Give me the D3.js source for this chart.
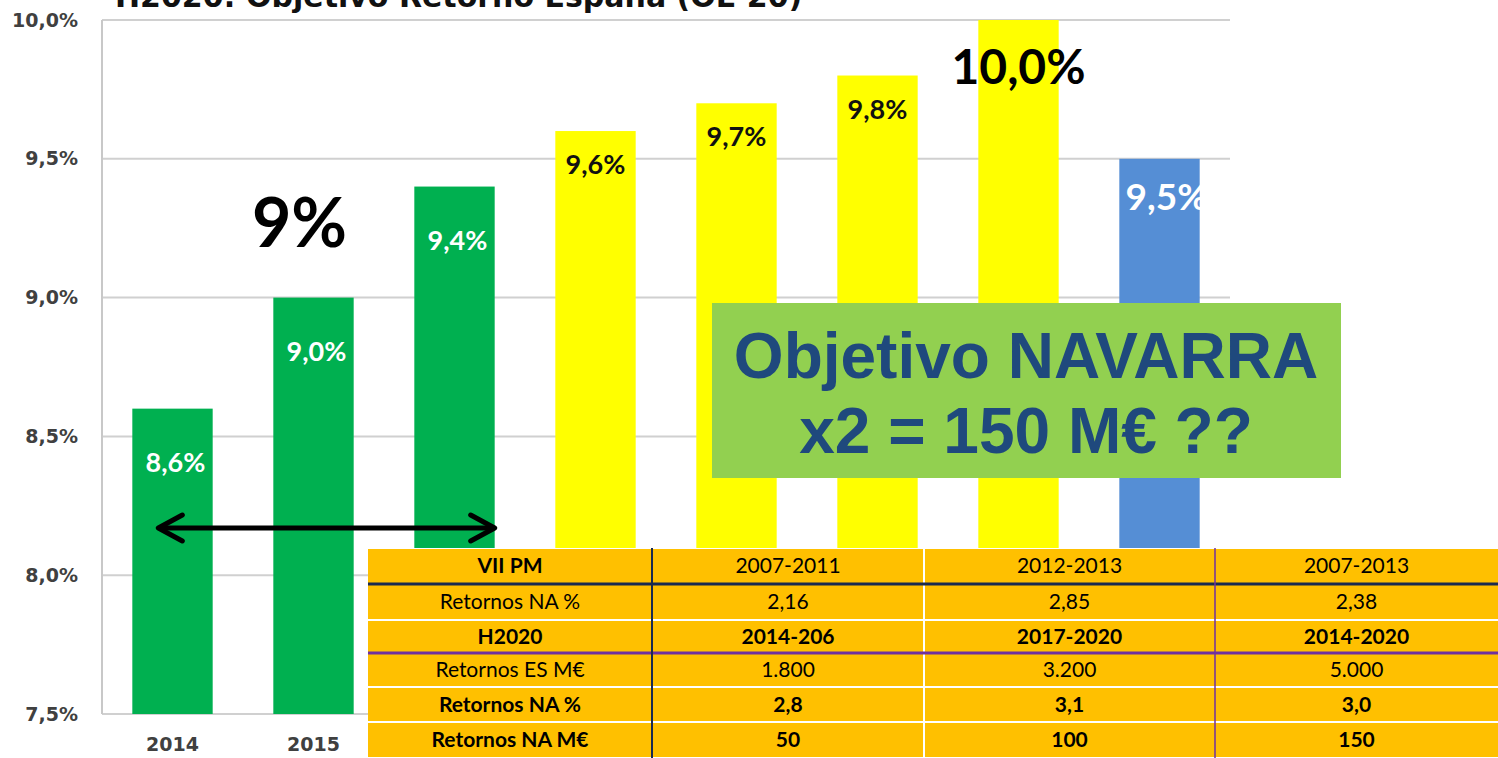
<!DOCTYPE html>
<html>
<head>
<meta charset="utf-8">
<script src="https://cdn.jsdelivr.net/npm/d3@7"></script>
<style>
  body { margin: 0; background: #fff; }
  svg { display: block; }
</style>
</head>
<body>
<svg id="chart"></svg>
<script>
//////////////// Daten ////////////////////
const years = ["2014", "2015", "2016", "2017", "2018", "2019", "2020", "TOTAL"];
const retorno = [8.6, 9.0, 9.4, 9.6, 9.7, 9.8, 10.0, 9.5];
const tipo = ["real", "real", "real", "obj", "obj", "obj", "meta", "total"];
const yTicks = [7.5, 8.0, 8.5, 9.0, 9.5, 10.0];

const tablaCabecera = ["VII PM", "2007-2011", "2012-2013", "2007-2013"];
const tablaFilas = [
  ["Retornos NA %", "2,16", "2,85", "2,38"],
  ["H2020", "2014-206", "2017-2020", "2014-2020"],
  ["Retornos ES M€", "1.800", "3.200", "5.000"],
  ["Retornos NA %", "2,8", "3,1", "3,0"],
  ["Retornos NA M€", "50", "100", "150"]
];
const filasNegrita = [true, false, true, false, true, true];

//////////////// Konstanten ////////////////////
const W = 1498, H = 758;
const margin = {top: 20, right: 268, bottom: 44, left: 102};
const colores = {real: "#00b050", obj: "#ffff00", meta: "#ffff00", total: "#558ed5"};
const fmt = d3.formatLocale({decimal: ",", thousands: ".", grouping: [3], currency: ["", "€"]});
const pct = v => fmt.format(".1f")(v) + "%";
const tablaX = 368;  // linker Rand der Tabelle

const svg = d3.select("#chart").attr("width", W).attr("height", H);

////////////////// Scaling ////////////
const x = d3.scaleBand()
  .domain(years)
  .range([margin.left, W - margin.right])
  .paddingInner(0.43)
  .paddingOuter(0.215);
const y = d3.scaleLinear()
  .domain([7.5, 10])
  .range([H - margin.bottom, margin.top]);

// Titel (oben abgeschnitten, wie im Original)
svg.append("text")
  .attr("x", 115).attr("y", 7)
  .attr("font-family", "'DejaVu Sans', sans-serif")
  .attr("font-weight", "bold")
  .attr("font-size", 30)
  .attr("fill", "#111")
  .text("H2020: Objetivo Retorno España (OE 20)");

// Gitter
svg.append("g").selectAll("line")
  .data(yTicks)
  .enter().append("line")
  .attr("x1", margin.left).attr("x2", W - margin.right)
  .attr("y1", d => y(d)).attr("y2", d => y(d))
  .attr("stroke", "#d0d0d0").attr("stroke-width", 2);

svg.append("line")
  .attr("x1", margin.left).attr("x2", margin.left)
  .attr("y1", y(10)).attr("y2", y(7.5))
  .attr("stroke", "#c8c8c8").attr("stroke-width", 2);

// Y-Achse
const yAxis = svg.append("g")
  .attr("transform", "translate(" + margin.left + ",0)")
  .call(d3.axisLeft(y).tickValues(yTicks).tickFormat(pct).tickSize(0).tickPadding(24));
yAxis.select(".domain").remove();
yAxis.selectAll("text")
  .attr("font-family", "'DejaVu Sans', sans-serif")
  .attr("font-weight", "bold")
  .attr("font-size", 19)
  .attr("fill", "#404040");

// X-Achse (nur die Jahre, die nicht unter der Tabelle liegen)
const xAxis = svg.append("g")
  .attr("transform", "translate(0," + y(7.5) + ")")
  .call(d3.axisBottom(x)
    .tickValues(years.filter(d => x(d) + x.bandwidth() < tablaX))
    .tickSize(0).tickPadding(24));
xAxis.select(".domain").remove();
xAxis.selectAll("text")
  .attr("font-family", "'DejaVu Sans', sans-serif")
  .attr("font-weight", "bold")
  .attr("font-size", 19)
  .attr("fill", "#404040");

// Balken
svg.append("g").selectAll("rect")
  .data(years)
  .enter().append("rect")
  .attr("x", d => x(d))
  .attr("y", (d, i) => y(retorno[i]))
  .attr("width", x.bandwidth())
  .attr("height", (d, i) => y(7.5) - y(retorno[i]))
  .attr("fill", (d, i) => colores[tipo[i]]);

// Beschriftungen
const labelStil = {
  real: {dy: 63, dx: 3, size: 27, fill: "#fff"},
  obj: {dy: 43, dx: 0, size: 27, fill: "#111"},
  meta: {dy: 64, dx: 0, size: 48, fill: "#000"},
  total: {dy: 51, dx: 7, size: 37, fill: "#fff"}
};
svg.append("g").selectAll("text")
  .data(years)
  .enter().append("text")
  .attr("x", (d, i) => x(d) + x.bandwidth() / 2 + labelStil[tipo[i]].dx)
  .attr("y", (d, i) => y(retorno[i]) + labelStil[tipo[i]].dy)
  .attr("text-anchor", "middle")
  .attr("font-family", "Lato, 'Open Sans', sans-serif")
  .attr("font-weight", "bold")
  .attr("font-size", (d, i) => labelStil[tipo[i]].size)
  .attr("fill", (d, i) => labelStil[tipo[i]].fill)
  .text((d, i) => pct(retorno[i]));

// "9%"
svg.append("text")
  .attr("x", x("2015") + x.bandwidth() / 2 - 14)
  .attr("y", 247)
  .attr("text-anchor", "middle")
  .attr("font-family", "Lato, 'Open Sans', sans-serif")
  .attr("font-weight", "bold")
  .attr("font-size", 68)
  .attr("fill", "#000")
  .text("9%");

// Doppelpfeil
const ay = y(8.17);
const ax1 = x("2014") + 26, ax2 = x("2016") + x.bandwidth();
svg.append("line")
  .attr("x1", ax1 + 3).attr("x2", ax2 - 3)
  .attr("y1", ay).attr("y2", ay)
  .attr("stroke", "#000").attr("stroke-width", 5);
svg.append("path")
  .attr("d", "M" + (ax1 + 24) + "," + (ay - 13) + "L" + ax1 + "," + ay + "L" + (ax1 + 24) + "," + (ay + 13)
    + "M" + (ax2 - 24) + "," + (ay - 13) + "L" + ax2 + "," + ay + "L" + (ax2 - 24) + "," + (ay + 13))
  .attr("fill", "none")
  .attr("stroke", "#000").attr("stroke-width", 5)
  .attr("stroke-linecap", "round").attr("stroke-linejoin", "round");

// Kasten NAVARRA
const box = svg.append("g").attr("transform", "translate(712,303)");
box.append("rect").attr("width", 629).attr("height", 175).attr("fill", "#92d050");
box.selectAll("text")
  .data(["Objetivo NAVARRA", "x2 = 150 M€ ??"])
  .enter().append("text")
  .attr("x", 314)
  .attr("y", (d, i) => 75 + i * 75)
  .attr("text-anchor", "middle")
  .attr("font-family", "'Liberation Sans', Arial, sans-serif")
  .attr("font-weight", "bold")
  .attr("font-size", 64)
  .attr("fill", "#1f497d")
  .text(d => d);

////////////////// Tabelle ////////////
const tX = [tablaX, 652, 924, 1215, 1498];
const tY = [548, 584, 620, 653, 687, 722, 758];
const filas = [tablaCabecera].concat(tablaFilas);
const tabla = svg.append("g");

tabla.append("rect")
  .attr("x", tX[0]).attr("y", tY[0])
  .attr("width", tX[4] - tX[0]).attr("height", tY[6] - tY[0])
  .attr("fill", "#fff");

filas.forEach(function(fila, r) {
  fila.forEach(function(celda, c) {
    tabla.append("rect")
      .attr("x", tX[c] + (c === 2 ? 1 : 0)).attr("y", tY[r] + 1)
      .attr("width", tX[c + 1] - tX[c] - (c === 1 || c === 2 ? 1 : 0))
      .attr("height", tY[r + 1] - tY[r] - 2)
      .attr("fill", "#ffc000");
    tabla.append("text")
      .attr("x", (tX[c] + tX[c + 1]) / 2)
      .attr("y", (tY[r] + tY[r + 1]) / 2 + 7)
      .attr("text-anchor", "middle")
      .attr("font-family", "Lato, 'Open Sans', sans-serif")
      .attr("font-weight", (filasNegrita[r] && (c === 0 || r !== 0)) ? "bold" : "normal")
      .attr("font-size", 21)
      .attr("fill", "#000")
      .text(celda);
  });
});
// Trennlinien
tabla.append("line")
  .attr("x1", tX[0]).attr("x2", tX[4]).attr("y1", tY[1]).attr("y2", tY[1])
  .attr("stroke", "#1a2a50").attr("stroke-width", 3);
tabla.append("line")
  .attr("x1", tX[0]).attr("x2", tX[4]).attr("y1", tY[3]).attr("y2", tY[3])
  .attr("stroke", "#7030a0").attr("stroke-width", 3);
tabla.append("line")
  .attr("x1", tX[1]).attr("x2", tX[1]).attr("y1", tY[0]).attr("y2", tY[6])
  .attr("stroke", "#1a2a50").attr("stroke-width", 2);
tabla.append("line")
  .attr("x1", tX[3]).attr("x2", tX[3]).attr("y1", tY[0]).attr("y2", tY[6])
  .attr("stroke", "#7030a0").attr("stroke-width", 1.5);
</script>
</body>
</html>
